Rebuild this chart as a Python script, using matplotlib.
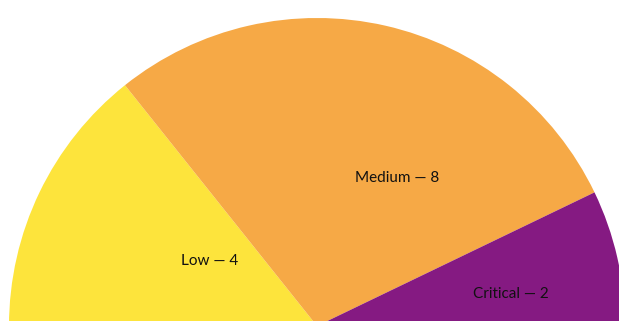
import matplotlib.pyplot as plt

labels = ["Low", "Medium", "Critical"]
counts = [4, 8, 2]
colors = ["#fde43c", "#f6a946", "#851a82"]

# label anchor points in radius units (x, y) relative to the pie centre
label_pos = [(-0.35, 0.21), (0.26, 0.481), (0.63, 0.104)]

fig = plt.figure(figsize=(6.19, 3.21), dpi=100)
ax = fig.add_axes([0, 0, 1, 1])

# half pie: the visible wedges fill the top semicircle, an invisible
# wedge of equal total takes the bottom half
values = counts + [sum(counts)]
wedge_colors = colors + ["none"]
ax.pie(values, colors=wedge_colors, startangle=180, counterclock=False,
       radius=1.0, center=(0, 0), wedgeprops=dict(linewidth=0))

for name, n, (x, y) in zip(labels, counts, label_pos):
    ax.text(x, y, f"{name} \u2014 {n}", ha="center", va="center",
            fontsize=11, family="Lato", color="#111111")

ax.set_aspect("auto")
ax.set_xlim(-317 / 308, (619 - 317) / 308)
ax.set_ylim(5 / 308, 326 / 308)
ax.axis("off")

fig.savefig("out.png", dpi=100)
